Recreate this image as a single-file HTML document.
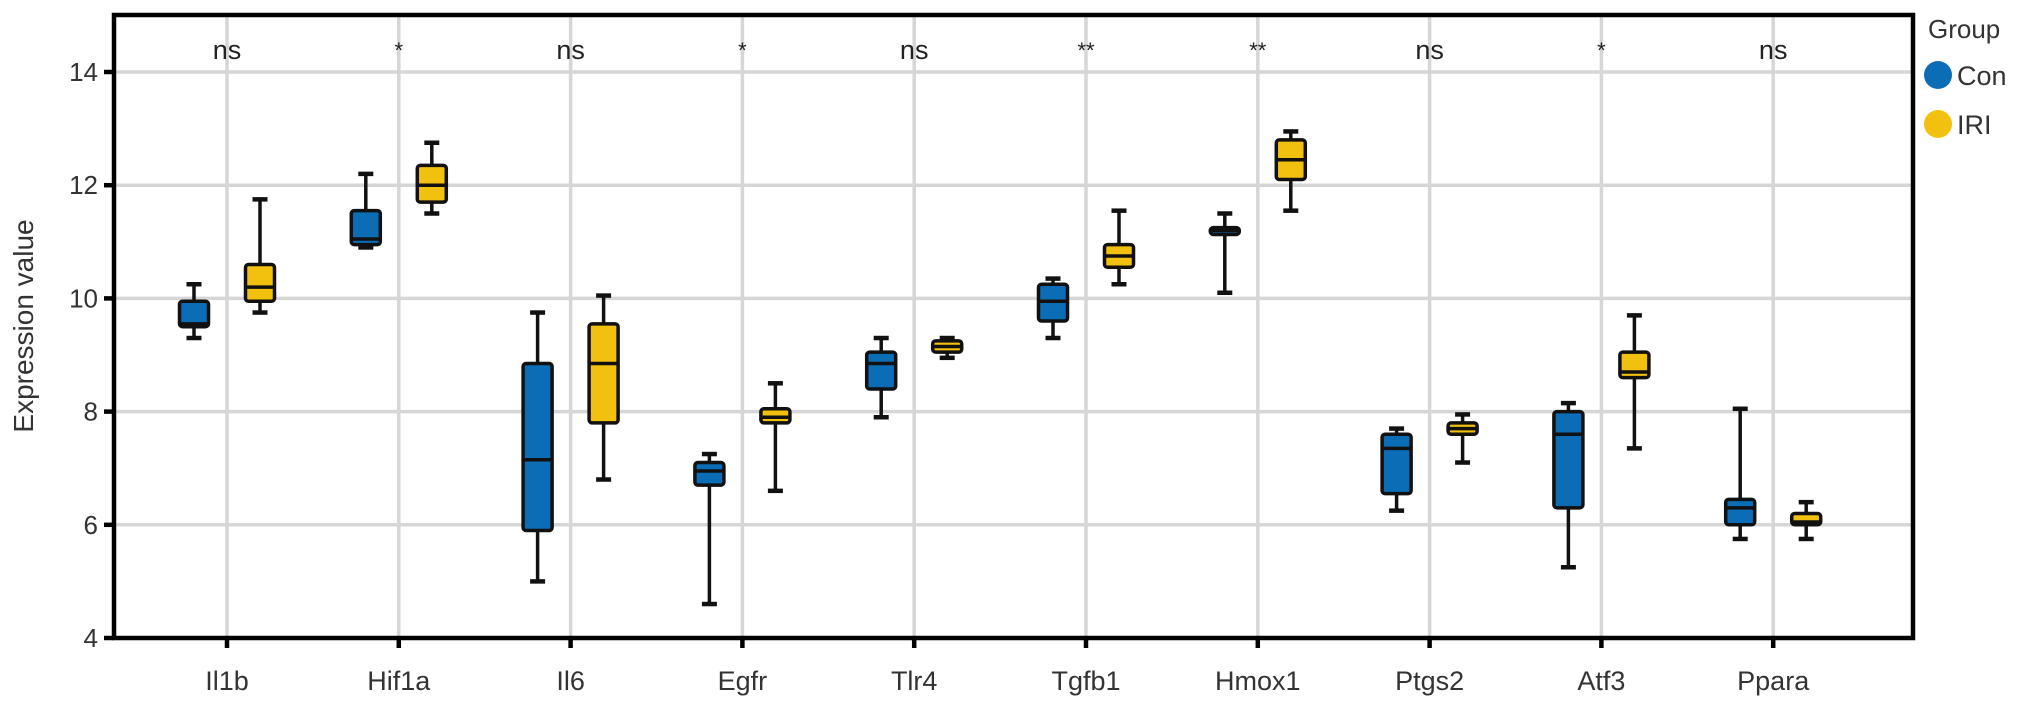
<!DOCTYPE html>
<html><head><meta charset="utf-8"><style>
html,body{margin:0;padding:0;background:#fff;}
svg{display:block;font-family:"Liberation Sans",Arial,sans-serif;}
</style></head><body>
<svg id="chart" width="2032" height="706" viewBox="0 0 2032 706" xmlns="http://www.w3.org/2000/svg"></svg>
<script>
const categories = ["Il1b","Hif1a","Il6","Egfr","Tlr4","Tgfb1","Hmox1","Ptgs2","Atf3","Ppara"];
const significance = ["ns","*","ns","*","ns","**","**","ns","*","ns"];
const yTicks = [4,6,8,10,12,14];
const conMin = [9.3,10.9,5.0,4.6,7.9,9.3,10.1,6.25,5.25,5.75];
const conQ1  = [9.5,10.95,5.9,6.7,8.4,9.6,11.13,6.55,6.3,6.0];
const conMed = [9.55,11.05,7.15,6.95,8.85,9.95,11.2,7.35,7.6,6.3];
const conQ3  = [9.95,11.55,8.85,7.1,9.05,10.25,11.25,7.6,8.0,6.45];
const conMax = [10.25,12.2,9.75,7.25,9.3,10.35,11.5,7.7,8.15,8.05];
const iriMin = [9.75,11.5,6.8,6.6,8.95,10.25,11.55,7.1,7.35,5.75];
const iriQ1  = [9.95,11.7,7.8,7.8,9.05,10.55,12.1,7.6,8.6,6.0];
const iriMed = [10.2,12.0,8.85,7.9,9.15,10.75,12.45,7.7,8.7,6.05];
const iriQ3  = [10.6,12.35,9.55,8.05,9.25,10.95,12.8,7.8,9.05,6.2];
const iriMax = [11.75,12.75,10.05,8.5,9.3,11.55,12.95,7.95,9.7,6.4];

const NS="http://www.w3.org/2000/svg";
const svg=document.getElementById('chart');
const L=114,R=1913,T=15,B=638;
const y=v=>B-(v-4)*(B-72)/10;
const x=i=>227+i*171.8;
function el(tag,attrs,parent){const e=document.createElementNS(NS,tag);for(const k in attrs)e.setAttribute(k,attrs[k]);(parent||svg).appendChild(e);return e;}

yTicks.forEach(t=>{const g=el('line',{x1:L,x2:R,y1:y(t),y2:y(t),stroke:'#d6d6d6','stroke-width':3.5});

});
categories.forEach((c,i)=>{const g=el('line',{x1:x(i),x2:x(i),y1:T,y2:B,stroke:'#d6d6d6','stroke-width':3.5});

});

significance.forEach((s,i)=>{const t=el('text',{x:x(i),y:s.includes('*')?58:59,'text-anchor':'middle','font-size':s.includes('*')?22:27,fill:'#222'});t.textContent=s;

});

function box(i,off,mn,q1,md,q3,mx,color,name){
  const g=el('g',{});
  
  
  const cx=x(i)+off,w=29,cw=15;
  el('line',{x1:cx,x2:cx,y1:y(mx),y2:y(mn),stroke:'#111','stroke-width':3.5},g);
  el('line',{x1:cx-cw/2,x2:cx+cw/2,y1:y(mx),y2:y(mx),stroke:'#111','stroke-width':4.5},g);
  el('line',{x1:cx-cw/2,x2:cx+cw/2,y1:y(mn),y2:y(mn),stroke:'#111','stroke-width':4.5},g);
  el('rect',{x:cx-w/2,y:y(q3),width:w,height:Math.max(y(q1)-y(q3),2),rx:3,fill:color,stroke:'#111','stroke-width':3.5},g);
  el('line',{x1:cx-w/2,x2:cx+w/2,y1:y(md),y2:y(md),stroke:'#111','stroke-width':3.5},g);
}
categories.forEach((c,i)=>{
  box(i,-33,conMin[i],conQ1[i],conMed[i],conQ3[i],conMax[i],'#0a6db5','box-con-'+c.toLowerCase());
  box(i,33,iriMin[i],iriQ1[i],iriMed[i],iriQ3[i],iriMax[i],'#f2c10f','box-iri-'+c.toLowerCase());
});

const f=el('rect',{x:L,y:T,width:R-L,height:B-T,fill:'none',stroke:'#000','stroke-width':4.5});



yTicks.forEach(t=>{
  el('line',{x1:L-10,x2:L,y1:y(t),y2:y(t),stroke:'#000','stroke-width':4.5});
  const tx=el('text',{x:L-16,y:y(t)+9,'text-anchor':'end','font-size':26,fill:'#333'});tx.textContent=t;
  
  
});
categories.forEach((c,i)=>{
  el('line',{x1:x(i),x2:x(i),y1:B,y2:B+10,stroke:'#000','stroke-width':4.5});
  const tx=el('text',{x:x(i),y:690,'text-anchor':'middle','font-size':27,fill:'#333'});tx.textContent=c;
  
  
});
const yt=el('text',{x:0,y:0,transform:'translate(33,326) rotate(-90)','text-anchor':'middle','font-size':28,fill:'#333'});yt.textContent='Expression value';



const lt=el('text',{x:1928,y:38,'font-size':26,fill:'#333'});lt.textContent='Group';


[['Con','#0a6db5',75],['IRI','#f2c10f',124]].forEach(([n,c,cy])=>{
  const g=el('g',{});
  
  
  el('circle',{cx:1938,cy:cy,r:14,fill:c},g);
  const t=el('text',{x:1957,y:cy+10,'font-size':27,fill:'#333'},g);t.textContent=n;
});
</script>
</body></html>
